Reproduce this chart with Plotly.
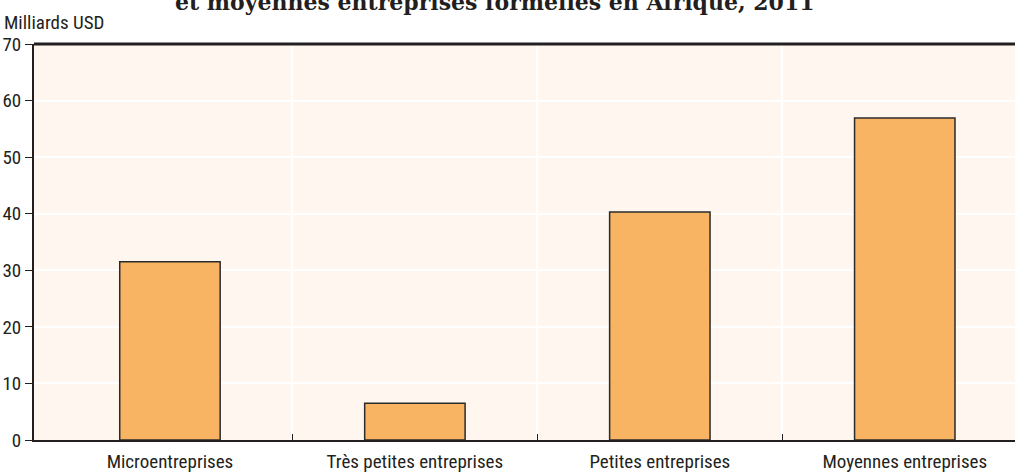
import plotly.graph_objects as go

# Données (milliards USD, 2011)
categories = ["Microentreprises", "Très petites entreprises", "Petites entreprises", "Moyennes entreprises"]
valeurs = [31.5, 6.5, 40.3, 56.9]
y_ticks = [0, 10, 20, 30, 40, 50, 60, 70]
separateurs = [0.5, 1.5, 2.5]

titre = "et moyennes entreprises formelles en Afrique, 2011"
unite = "Milliards USD"

police = "Liberation Sans Narrow, Roboto Condensed, Arial Narrow, sans-serif"
encre = "#231f20"

fig = go.Figure()
fig.add_trace(go.Bar(
    x=categories, y=valeurs,
    width=0.41,
    marker=dict(color="#F8B462", line=dict(color="#2b2b2b", width=1.5)),
    showlegend=False,
))
# invisible trace so the overlay axis exists
fig.add_trace(go.Scatter(x=[0], y=[0], xaxis="x2", mode="markers",
                         marker=dict(opacity=0), showlegend=False, hoverinfo="skip"))

xr = [-0.555, 3.45]
fig.update_layout(
    width=1015, height=474,
    margin=dict(l=34, r=0, t=44, b=34),
    paper_bgcolor="white",
    plot_bgcolor="#FEF6EF",
    font=dict(family=police, size=19, color=encre),
    xaxis=dict(
        type="category", range=xr, showgrid=False, ticks="", automargin=False,
        showline=True, linecolor=encre, linewidth=2,
        tickfont=dict(size=19), zeroline=False, ticklabelstandoff=3,
    ),
    xaxis2=dict(
        overlaying="x", side="bottom", range=xr, tickmode="array", automargin=False,
        tickvals=separateurs, showticklabels=False,
        ticks="inside", ticklen=6, tickcolor=encre, tickwidth=1,
        showgrid=True, gridcolor="white", gridwidth=2, showline=False, zeroline=False,
    ),
    yaxis=dict(
        range=[0, 70], tickvals=y_ticks, showgrid=True, gridcolor="white", gridwidth=2,
        ticks="outside", ticklen=7, tickcolor=encre, tickwidth=1, automargin=False,
        showline=True, linecolor=encre, linewidth=2, zeroline=False,
        tickfont=dict(size=19), ticklabelstandoff=0,
    ),
    shapes=[dict(type="line", xref="paper", yref="paper", x0=0, x1=1, y0=1, y1=1,
                 line=dict(color=encre, width=3))],
    annotations=[
        dict(text=unite, xref="paper", yref="paper", x=0, y=1, xanchor="left", yanchor="bottom",
             xshift=-32, yshift=8, showarrow=False, font=dict(size=19, family=police)),
        dict(text="<b>" + titre + "</b>", xref="paper", yref="paper", x=0.47, y=1,
             xanchor="center", yanchor="bottom", yshift=27, showarrow=False,
             font=dict(size=22, family="DejaVu Serif, serif", color=encre)),
    ],
)

fig.write_html("out.html", config={"displayModeBar": False},
               post_script="document.body.style.margin='0';")
